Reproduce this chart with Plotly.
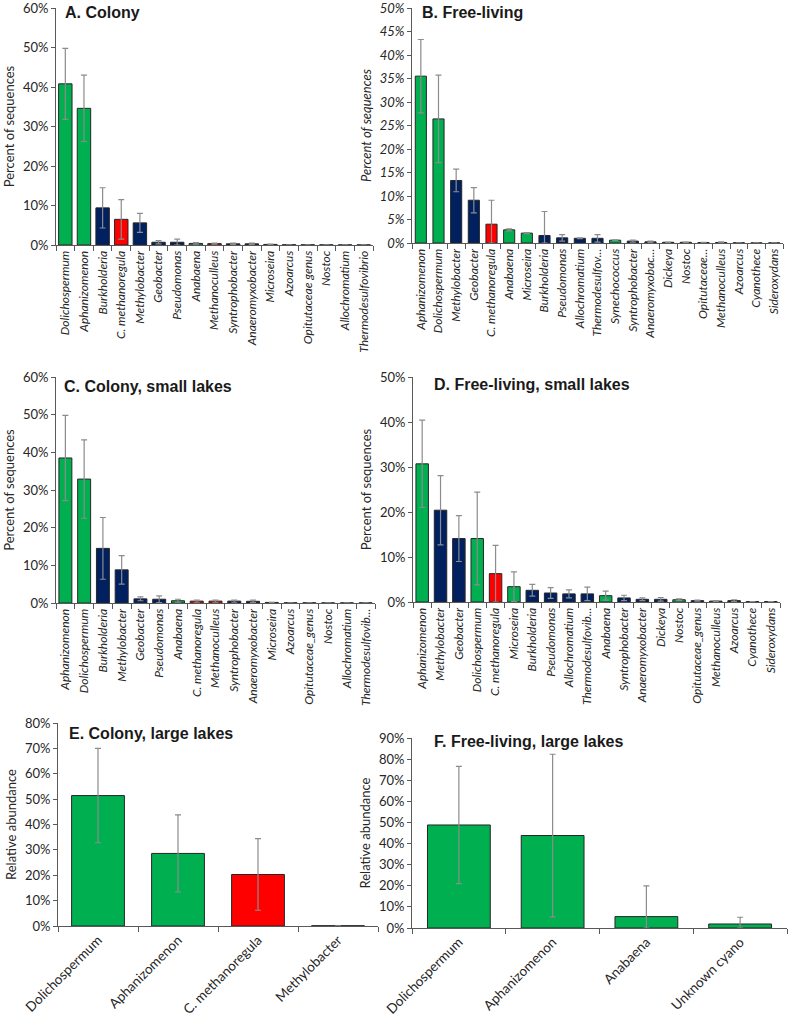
import plotly.graph_objects as go

# ---------------- data ----------------
A_taxa = ["Dolichospermum", "Aphanizomenon", "Burkholderia", "C. methanoregula", "Methylobacter",
          "Geobacter", "Pseudomonas", "Anabaena", "Methanoculleus", "Syntrophobacter",
          "Anaeromyxobacter", "Microseira", "Azoarcus", "Opitutaceae genus", "Nostoc",
          "Allochromatium", "Thermodesulfovibrio"]
A_mean = [40.8, 34.6, 9.4, 6.5, 5.6, 0.7, 0.7, 0.4, 0.35, 0.3, 0.3, 0.15, 0.06, 0.05, 0.04, 0.03, 0.03]
A_err = [9.0, 8.4, 5.1, 5.0, 2.4, 0.4, 0.8, 0.2, 0.15, 0.2, 0.2, 0.05, 0.0, 0.0, 0.0, 0.0, 0.0]

B_taxa = ["Aphanizomenon", "Dolichospermum", "Methylobacter", "Geobacter", "C. methanoregula",
          "Anabaena", "Microseira", "Burkholderia", "Pseudomonas", "Allochromatium",
          "Thermodesulfov...", "Synechococcus", "Syntrophobacter", "Anaeromyxobac...", "Dickeya",
          "Nostoc", "Opitutaceae...", "Methanoculleus", "Azoarcus", "Cyanothece", "Sideroxydans"]
B_mean = [35.5, 26.4, 13.3, 9.1, 4.0, 2.8, 2.1, 1.6, 1.1, 1.0, 1.0, 0.6, 0.4, 0.25, 0.15,
          0.15, 0.1, 0.1, 0.05, 0.03, 0.03]
B_err = [7.8, 9.3, 2.4, 2.7, 5.1, 0.2, 0.1, 5.1, 0.7, 0.1, 0.8, 0.05, 0.2, 0.15, 0.05,
         0.05, 0.05, 0.15, 0.0, 0.0, 0.0]

C_taxa = ["Aphanizomenon", "Dolichospermum", "Burkholderia", "Methylobacter", "Geobacter",
          "Pseudomonas", "Anabaena", "C. methanoregula", "Methanoculleus", "Syntrophobacter",
          "Anaeromyxobacter", "Microseira", "Azoarcus", "Opitutaceae_genus", "Nostoc",
          "Allochromatium", "Thermodesulfovib..."]
C_mean = [38.5, 32.9, 14.5, 8.8, 1.1, 1.0, 0.6, 0.5, 0.5, 0.5, 0.45, 0.15, 0.05, 0.05, 0.03, 0.03, 0.03]
C_err = [11.3, 10.4, 8.2, 3.8, 0.5, 0.9, 0.4, 0.3, 0.3, 0.3, 0.3, 0.05, 0.0, 0.0, 0.0, 0.0, 0.0]

D_taxa = ["Aphanizomenon", "Methylobacter", "Geobacter", "Dolichospermum", "C. methanoregula",
          "Microseira", "Burkholderia", "Pseudomonas", "Allochromatium", "Thermodesulfovib...",
          "Anabaena", "Syntrophobacter", "Anaeromyxobacter", "Dickeya", "Nostoc",
          "Opitutaceae_genus", "Methanoculleus", "Azoarcus", "Cyanothece", "Sideroxydans"]
D_mean = [30.7, 20.4, 14.1, 14.1, 6.3, 3.4, 2.6, 2.0, 1.8, 1.8, 1.4, 0.9, 0.6, 0.6, 0.5,
          0.3, 0.2, 0.3, 0.1, 0.1]
D_err = [9.7, 7.7, 5.1, 10.3, 6.3, 3.3, 1.3, 1.2, 0.9, 1.5, 1.0, 0.6, 0.3, 0.4, 0.2,
         0.1, 0.1, 0.2, 0.0, 0.0]

E_taxa = ["Dolichospermum", "Aphanizomenon", "C. methanoregula", "Methylobacter"]
E_mean = [51.4, 28.6, 20.3, 0.1]
E_err = [18.6, 15.2, 14.1, 0.0]

F_taxa = ["Dolichospermum", "Aphanizomenon", "Anabaena", "Unknown cyano"]
F_mean = [48.8, 43.8, 5.4, 1.9]
F_err = [27.8, 38.5, 14.6, 3.2]

CYANO = {"Dolichospermum", "Aphanizomenon", "Anabaena", "Microseira", "Nostoc",
         "Synechococcus", "Cyanothece", "Unknown cyano"}
METHANOGEN = {"C. methanoregula", "Methanoculleus"}

# ---------------- style ----------------
GREEN, NAVY, RED = "#00B050", "#002060", "#FF0000"
AXIS = "#595959"
TXT = "#262626"
FONT = "Lato"
W, H = 791, 1018


def col(t):
    if t in CYANO:
        return GREEN
    if t in METHANOGEN:
        return RED
    return NAVY


panels = [
    dict(taxa=A_taxa, mean=A_mean, err=A_err, px=(56, 373), py=(8, 245), rng=60, dt=10,
         title="A. Colony", tpos=(63, 13), ytitle="Percent of sequences", yital=False,
         angle=-90, lital=True, lsize=12, tsize=13, width=0.72),
    dict(taxa=B_taxa, mean=B_mean, err=B_err, px=(412, 783), py=(8, 243), rng=50, dt=5,
         title="B. Free-living", tpos=(420, 13), ytitle="Percent of sequences", yital=True,
         angle=-90, lital=True, lsize=12, tsize=13, width=0.63),
    dict(taxa=C_taxa, mean=C_mean, err=C_err, px=(56, 375), py=(377, 603), rng=60, dt=10,
         title="C. Colony, small lakes", tpos=(62, 386), ytitle="Percent of sequences", yital=False,
         angle=-90, lital=True, lsize=12, tsize=13, width=0.69),
    dict(taxa=D_taxa, mean=D_mean, err=D_err, px=(413, 780), py=(377, 602), rng=50, dt=10,
         title="D. Free-living, small lakes", tpos=(432, 385), ytitle="Percent of sequences", yital=False,
         angle=-90, lital=True, lsize=12, tsize=13, width=0.68),
    dict(taxa=E_taxa, mean=E_mean, err=E_err, px=(58, 378), py=(723, 926), rng=80, dt=10,
         title="E. Colony, large lakes", tpos=(67, 733), ytitle="Relative abundance", yital=False,
         angle=-45, lital=False, lsize=13.5, tsize=13, width=0.66),
    dict(taxa=F_taxa, mean=F_mean, err=F_err, px=(412, 787), py=(738, 928), rng=90, dt=10,
         title="F. Free-living, large lakes", tpos=(432, 741), ytitle="Relative abundance", yital=False,
         angle=-45, lital=False, lsize=13.5, tsize=13, width=0.67),
]

fig = go.Figure()
layout = dict(width=W, height=H, margin=dict(l=0, r=0, t=0, b=0, autoexpand=False),
              paper_bgcolor="white", plot_bgcolor="white", showlegend=False,
              font=dict(family=FONT, color=TXT), annotations=[])

for i, p in enumerate(panels, start=1):
    xa = "x" if i == 1 else f"x{i}"
    ya = "y" if i == 1 else f"y{i}"
    minus = [min(e, m) for e, m in zip(p["err"], p["mean"])]
    fig.add_trace(go.Bar(
        x=p["taxa"], y=p["mean"], xaxis=xa, yaxis=ya, width=p["width"],
        marker=dict(color=[col(t) for t in p["taxa"]], line=dict(color="#262626", width=1)),
        error_y=dict(type="data", array=p["err"], arrayminus=minus, color="#8c8c8c",
                     thickness=1.2, width=3),
        hoverinfo="x+y"))
    n = len(p["taxa"])
    ital = "italic" if p["lital"] else "normal"
    layout["xaxis" if i == 1 else f"xaxis{i}"] = dict(
        domain=[p["px"][0] / W, p["px"][1] / W], anchor=ya, type="category",
        range=[-0.5, n - 0.5], showline=True, linecolor=AXIS, linewidth=1,
        ticks="outside", tickson="boundaries", ticklen=5, tickcolor=AXIS,
        tickangle=p["angle"], tickfont=dict(family=FONT, size=p["lsize"], color=TXT, style=ital),
        ticklabeloverflow="allow",
        showgrid=False, zeroline=False, fixedrange=True, automargin=False)
    ystyle = "italic" if p["yital"] else "normal"
    layout["yaxis" if i == 1 else f"yaxis{i}"] = dict(
        domain=[1 - p["py"][1] / H, 1 - p["py"][0] / H], anchor=xa,
        range=[0, p["rng"]], dtick=p["dt"], tick0=0, ticksuffix="%",
        showline=True, linecolor=AXIS, linewidth=1, ticks="outside", ticklen=4, tickcolor=AXIS,
        tickfont=dict(family=FONT, size=p["tsize"], color=TXT, style=ystyle),
        ticklabeloverflow="allow",
        title=dict(text=p["ytitle"], font=dict(family=FONT, size=13, color=TXT, style=ystyle),
                   standoff=5),
        showgrid=False, zeroline=False, fixedrange=True, automargin=False)
    layout["annotations"].append(dict(
        text=f"<b>{p['title']}</b>", xref="paper", yref="paper",
        x=p["tpos"][0] / W, y=1 - p["tpos"][1] / H, xanchor="left", yanchor="middle",
        showarrow=False, font=dict(family="Liberation Sans", size=16, color="#1a1a1a")))

fig.update_layout(**layout)
fig.write_html("out.html")
